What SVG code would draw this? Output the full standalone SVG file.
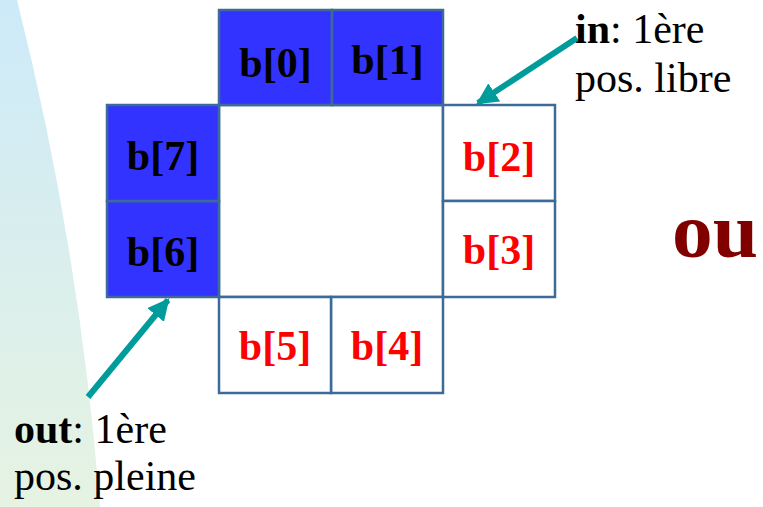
<svg xmlns="http://www.w3.org/2000/svg" width="763" height="507" viewBox="0 0 763 507">
<defs>
<linearGradient id="bg" x1="0" y1="0" x2="0" y2="1">
<stop offset="0" stop-color="#cdeaf9"/>
<stop offset="1" stop-color="#e6f3e2"/>
</linearGradient>
<marker id="ah" viewBox="0 0 10 10" refX="9" refY="5" markerWidth="3.6" markerHeight="3.6" orient="auto" markerUnits="strokeWidth">
<path d="M0,0 L10,5 L0,10 Z" fill="#009c9c"/>
</marker>
<style>
.cell{stroke:#3d6b99;stroke-width:2.5}
.full{fill:#3333ff}
.empty{fill:#ffffff}
.lbl{font-family:"Liberation Serif","Times New Roman",serif;font-weight:bold;font-size:42px;text-anchor:middle}
.blk{fill:#000000}
.red{fill:#ff0000}
.note{font-family:"Liberation Serif","Times New Roman",serif;font-size:42px;fill:#000000}
.arr{stroke:#009c9c;stroke-width:6;fill:none}
</style>
</defs>
<rect width="763" height="507" fill="#ffffff"/>
<path d="M0,0 L17,0 Q80,250 100,507 L0,507 Z" fill="url(#bg)"/>
<g id="center"><rect class="cell empty" x="219" y="105" width="224" height="192"/></g>
<g id="b0"><rect class="cell full" x="219" y="10" width="113" height="95"/><text class="lbl blk" x="275.5" y="77">b[0]</text></g>
<g id="b1"><rect class="cell full" x="332" y="10" width="111" height="95"/><text class="lbl blk" x="387.5" y="74">b[1]</text></g>
<g id="b2"><rect class="cell empty" x="443" y="105" width="112" height="96"/><text class="lbl red" x="499" y="171">b[2]</text></g>
<g id="b3"><rect class="cell empty" x="443" y="201" width="112" height="96"/><text class="lbl red" x="499" y="264">b[3]</text></g>
<g id="b4"><rect class="cell empty" x="331" y="297" width="112" height="96"/><text class="lbl red" x="387" y="360">b[4]</text></g>
<g id="b5"><rect class="cell empty" x="219" y="297" width="112" height="96"/><text class="lbl red" x="275" y="360">b[5]</text></g>
<g id="b6"><rect class="cell full" x="107" y="201" width="112" height="96"/><text class="lbl blk" x="163" y="266">b[6]</text></g>
<g id="b7"><rect class="cell full" x="107" y="105" width="112" height="96"/><text class="lbl blk" x="163" y="170">b[7]</text></g>
<g id="connectors">
<line class="arr" x1="577" y1="38" x2="478" y2="103" marker-end="url(#ah)"/>
<line class="arr" x1="88" y1="397" x2="168" y2="300" marker-end="url(#ah)"/>
</g>
<g id="in-label"><text class="note" x="575" y="43"><tspan font-weight="bold">in</tspan>: 1ère</text><text class="note" x="575" y="92">pos. libre</text></g>
<g id="out-label"><text class="note" x="14" y="443"><tspan font-weight="bold">out</tspan>: 1ère</text><text class="note" x="14" y="490">pos. pleine</text></g>
<g id="ou"><text x="672" y="257" font-family="'Liberation Serif','Times New Roman',serif" font-weight="bold" font-size="78" fill="#800000" textLength="86" lengthAdjust="spacingAndGlyphs">ou</text></g>
</svg>
